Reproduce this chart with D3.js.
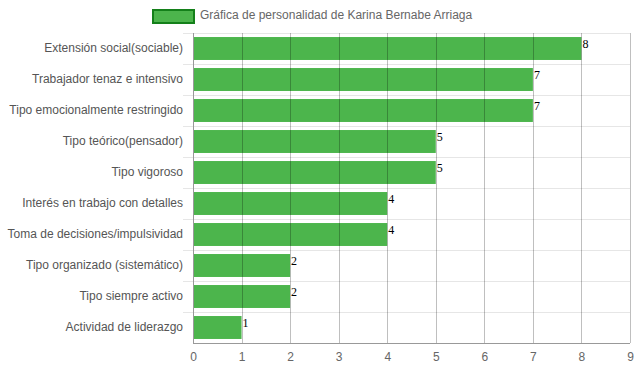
<!DOCTYPE html>
<html>
<head>
<meta charset="utf-8">
<script src="https://cdn.jsdelivr.net/npm/d3@7"></script>
<style>
  body { margin: 0; background: #fff; }
  svg text { font-family: "Liberation Sans", Arial, sans-serif; }
</style>
</head>
<body>
<svg id="chart"></svg>
<script>
'use strict';

var categories = [
    'Extensión social(sociable)',
    'Trabajador tenaz e intensivo',
    'Tipo emocionalmente restringido',
    'Tipo teórico(pensador)',
    'Tipo vigoroso',
    'Interés en trabajo con detalles',
    'Toma de decisiones/impulsividad',
    'Tipo organizado (sistemático)',
    'Tipo siempre activo',
    'Actividad de liderazgo'
];
var values = [8, 7, 7, 5, 5, 4, 4, 2, 2, 1];
var xTicks = [0, 1, 2, 3, 4, 5, 6, 7, 8, 9];
var seriesName = 'Gráfica de personalidad de Karina Bernabe Arriaga';

var W = 637, H = 371;
var margin = {top: 33, right: 7, bottom: 28, left: 193};
var width = W - margin.left - margin.right;
var height = H - margin.top - margin.bottom;

var svg = d3.select('#chart').attr('width', W).attr('height', H);

// legend
var legend = svg.append('g');
legend.append('rect')
    .attr('x', 153).attr('y', 10)
    .attr('width', 41).attr('height', 13)
    .attr('fill', '#4cb54c')
    .attr('stroke', '#14801a')
    .attr('stroke-width', 2);
legend.append('text')
    .attr('x', 200).attr('y', 19)
    .attr('font-size', 12)
    .attr('fill', '#666')
    .text(seriesName);

var x = d3.scaleLinear()
    .domain([0, 9])
    .range([0, width]);

var y = d3.scaleBand()
    .domain(categories)
    .range([0, height])
    .paddingInner(0.26)
    .paddingOuter(0.13);

var g = svg.append('g')
    .attr('transform', 'translate(' + margin.left + ',' + margin.top + ')');

// horizontal gridlines at band boundaries
var step = y.step();
var hLines = d3.range(categories.length).map(function(i) { return i * step; });
g.selectAll('.hgrid')
    .data(hLines)
    .enter().append('line')
    .attr('class', 'hgrid')
    .attr('x1', -10).attr('x2', width)
    .attr('y1', function(d) { return Math.round(d) + 0.5; })
    .attr('y2', function(d) { return Math.round(d) + 0.5; })
    .attr('stroke', '#e6e6e6')
    .attr('stroke-width', 1);

// bars
g.selectAll('.bar')
    .data(values)
    .enter().append('rect')
    .attr('class', 'bar')
    .attr('x', x(0))
    .attr('y', function(d, i) { return y(categories[i]); })
    .attr('width', function(d) { return x(d) - x(0); })
    .attr('height', y.bandwidth())
    .attr('fill', '#4cb54c');

// vertical gridlines (drawn over bars)
g.selectAll('.vgrid')
    .data(xTicks)
    .enter().append('line')
    .attr('class', 'vgrid')
    .attr('x1', function(d) { return Math.round(x(d)) + 0.5; })
    .attr('x2', function(d) { return Math.round(x(d)) + 0.5; })
    .attr('y1', 0).attr('y2', height)
    .attr('stroke', function(d) { return d === 0 ? '#999' : 'rgba(0,0,0,0.25)'; })
    .attr('stroke-width', 1);

// x axis
var xAxis = g.append('g')
    .attr('transform', 'translate(0,' + height + ')')
    .call(d3.axisBottom(x).tickValues(xTicks).tickSize(0).tickPadding(9));
xAxis.select('.domain').attr('stroke', '#999').attr('d', 'M0,0.5H' + width);
xAxis.selectAll('text')
    .attr('font-size', 12)
    .attr('fill', '#666')
    .style('font-family', '"Liberation Sans", Arial, sans-serif');

// y axis labels
var yAxis = g.append('g')
    .call(d3.axisLeft(y).tickSize(0).tickPadding(10));
yAxis.select('.domain').remove();
yAxis.selectAll('text')
    .attr('font-size', 12)
    .attr('fill', '#555')
    .style('font-family', '"Liberation Sans", Arial, sans-serif');

// value labels
g.selectAll('.val')
    .data(values)
    .enter().append('text')
    .attr('class', 'val')
    .attr('x', function(d) { return x(d) + 1; })
    .attr('y', function(d, i) { return y(categories[i]) + 11; })
    .attr('font-size', 12)
    .style('font-family', '"Liberation Serif", "Times New Roman", serif')
    .attr('fill', '#000')
    .text(function(d) { return d; });
</script>
</body>
</html>
